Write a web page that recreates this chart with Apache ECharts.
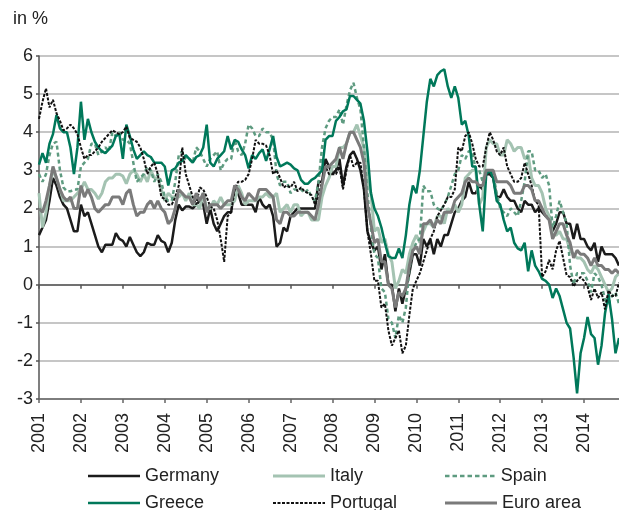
<!DOCTYPE html>
<html>
<head>
<meta charset="utf-8">
<script src="https://cdn.jsdelivr.net/npm/echarts@6/dist/echarts.min.js"></script>
<style>
html,body{margin:0;padding:0;background:#fff;}
#chart{width:619px;height:510px;}
</style>
</head>
<body>
<div id="chart"></div>
<script>
var years = ['2001','2002','2003','2004','2005','2006','2007','2008','2009','2010','2011','2012','2013','2014'];
var monthsInLastYear = 11;

var germany = [
1.3,1.5,1.7,2.2,2.8,2.6,2.3,2.1,2.0,1.7,1.4,1.4,
2.1,1.8,1.9,1.6,1.3,1.0,0.85,1.05,1.05,1.05,1.35,1.2,
1.15,1.0,1.25,1.05,0.85,0.75,0.85,1.1,1.05,1.05,1.3,1.15,
1.1,0.85,1.1,1.7,2.1,1.95,2.05,2.05,2.0,2.1,2.2,2.1,
1.6,2.0,1.6,1.4,1.6,1.8,1.9,1.9,2.6,2.4,2.1,2.1,
2.1,2.1,1.9,2.3,2.1,2.0,2.1,1.8,1.0,1.1,1.5,1.4,
1.8,1.9,2.0,2.0,2.0,2.0,2.0,2.0,2.7,2.7,3.3,3.1,
2.9,3.0,3.3,2.6,3.1,3.4,3.5,3.3,3.0,2.5,1.4,1.1,
0.9,1.0,0.4,0.8,0.0,0.0,-0.7,-0.1,-0.5,-0.1,0.3,0.8,
0.8,0.5,1.2,1.0,1.2,0.8,1.2,1.0,1.3,1.3,1.6,1.9,
2.0,2.2,2.3,2.7,2.4,2.4,2.6,2.5,2.9,2.9,2.8,2.3,
2.3,2.5,2.3,2.2,2.2,2.0,1.9,2.2,2.1,2.1,1.9,2.0,
1.9,1.8,1.8,1.4,1.6,1.9,1.9,1.6,1.6,1.2,1.6,1.2,
1.2,1.0,0.9,1.1,0.6,1.0,0.8,0.8,0.8,0.7,0.5];

var italy = [
2.4,1.5,1.9,2.6,3.0,2.8,2.5,2.2,2.2,2.2,2.3,2.4,
2.5,2.7,2.5,2.5,2.4,2.25,2.4,2.7,2.8,2.8,2.9,2.9,
2.85,2.65,2.9,3.0,2.9,2.7,2.9,2.7,3.0,2.8,2.8,2.5,
2.2,2.4,2.3,2.3,2.3,2.4,2.2,2.4,2.1,2.1,2.0,2.4,
2.0,2.0,2.2,2.1,2.3,2.1,2.1,2.1,2.2,2.6,2.4,2.1,
2.2,2.2,2.2,2.3,2.3,2.4,2.3,2.3,2.4,1.9,2.0,2.1,
1.9,2.1,2.1,1.8,1.9,1.9,1.7,1.7,1.7,2.3,2.6,2.8,
3.1,3.1,3.6,3.6,3.7,4.0,4.0,4.2,3.9,3.6,2.7,2.4,
1.4,1.5,1.1,1.2,0.8,0.6,-0.1,0.1,0.4,0.3,0.8,1.1,
1.3,1.1,1.4,1.6,1.6,1.5,1.8,1.8,1.6,2.0,1.9,2.1,
1.9,2.1,2.8,2.9,3.0,3.0,2.1,2.3,3.6,3.8,3.7,3.7,
3.4,3.4,3.8,3.7,3.5,3.6,3.6,3.3,3.4,2.8,2.6,2.6,
2.4,2.0,1.8,1.3,1.3,1.4,1.2,1.2,0.9,0.8,0.7,0.7,
0.6,0.4,0.3,0.5,0.4,0.2,0.0,-0.2,-0.1,0.2,0.3];

var spain = [
2.9,2.7,2.9,3.4,3.7,3.75,3.0,2.55,2.45,2.45,2.5,2.5,
3.1,3.2,3.3,3.7,3.7,3.4,3.5,3.6,3.5,4.0,3.9,4.0,
3.8,3.8,3.7,3.2,2.7,2.8,2.9,3.1,3.0,2.7,2.9,2.7,
2.3,2.2,2.2,2.7,3.4,3.5,3.3,3.3,3.2,3.6,3.5,3.3,
3.1,3.3,3.4,3.5,3.0,3.2,3.3,3.3,3.8,3.5,3.4,3.7,
4.2,4.1,3.9,3.9,4.1,4.0,4.0,3.8,2.9,2.6,2.7,2.7,
2.4,2.5,2.5,2.5,2.4,2.5,2.3,2.2,2.7,3.6,4.1,4.3,
4.4,4.4,4.6,4.2,4.7,5.1,5.3,4.9,4.6,3.6,2.4,1.5,
0.8,0.7,-0.1,-0.2,-0.9,-1.0,-1.4,-0.8,-1.0,-0.6,0.4,0.9,
1.1,1.2,2.6,2.45,2.45,2.1,2.0,1.95,2.1,2.3,2.6,2.9,
3.0,3.4,3.3,3.5,3.5,3.0,3.0,2.7,3.0,3.0,2.9,2.4,
2.0,1.9,1.8,2.0,1.9,1.8,2.2,2.7,3.5,3.5,3.0,3.0,
2.8,2.9,2.6,1.5,1.8,2.2,1.9,1.6,0.5,0.0,0.3,0.3,
0.3,0.1,-0.2,0.3,0.2,0.0,-0.4,-0.5,-0.3,-0.2,-0.5];

var greece = [
3.15,3.45,3.2,3.7,3.95,4.45,4.1,4.0,4.0,3.6,2.9,3.6,
4.8,3.8,4.35,4.0,3.75,3.6,3.5,3.45,3.55,3.65,3.9,3.95,
3.3,4.2,3.9,3.55,3.3,3.4,3.5,3.4,3.35,3.2,3.2,3.2,
3.1,2.6,3.0,3.05,3.2,3.25,3.4,3.3,3.2,3.35,3.4,3.6,
4.2,3.2,3.1,3.3,3.4,3.5,3.9,3.55,3.8,3.75,3.55,3.4,
3.05,3.4,3.3,3.45,3.55,3.25,3.55,3.9,3.35,3.1,3.15,3.2,
3.15,3.05,3.0,2.75,2.65,2.65,2.75,2.8,2.9,3.0,3.8,3.9,
3.9,4.3,4.4,4.55,4.6,4.95,4.95,4.85,4.75,4.3,3.5,2.4,
2.0,1.8,1.5,1.1,0.75,0.7,0.7,0.95,0.7,1.3,2.1,2.6,
2.4,3.0,3.9,4.8,5.4,5.2,5.5,5.6,5.65,5.2,4.9,5.2,
4.9,4.2,4.3,3.9,3.1,3.1,2.1,1.4,2.9,3.0,2.8,2.2,
2.1,1.7,1.4,1.5,1.1,0.95,0.9,1.1,0.35,0.9,0.5,0.35,
0.15,0.1,0.0,-0.35,-0.1,-0.3,-0.65,-1.0,-1.15,-1.9,-2.85,-1.8,
-1.4,-0.85,-1.3,-1.4,-2.1,-1.6,-0.75,-0.25,-0.9,-1.8,-1.4];

var portugal = [
4.35,4.8,5.15,4.65,4.85,4.5,4.3,4.05,4.1,4.2,4.1,3.95,
3.6,3.3,3.4,3.4,3.5,3.6,3.75,3.85,3.95,4.05,4.0,3.95,
4.0,4.15,3.85,3.8,3.75,3.6,3.3,2.9,3.1,3.2,2.9,2.3,
2.25,2.1,2.1,2.3,2.6,3.6,2.9,2.6,2.3,2.1,2.55,2.5,
2.3,2.05,2.0,1.7,1.2,0.6,1.8,1.9,2.5,2.7,2.7,2.75,
2.9,3.3,3.8,3.7,3.7,3.65,3.4,2.9,3.0,2.8,2.55,2.6,
2.55,2.7,2.45,2.55,2.45,2.4,2.35,2.1,2.3,2.7,3.1,2.9,
2.9,2.9,3.1,2.5,3.0,3.4,3.1,3.2,3.2,2.5,1.4,0.8,
0.1,0.1,-0.6,-0.5,-1.2,-1.6,-1.4,-1.2,-1.8,-1.6,-0.8,-0.1,
0.1,0.3,0.6,0.9,1.2,1.4,1.8,1.95,2.1,2.3,2.3,2.5,
3.6,3.5,3.9,4.0,3.7,3.3,3.1,3.1,3.6,4.0,3.8,3.5,
3.4,3.6,3.1,2.9,2.7,2.7,2.8,3.2,2.9,2.6,2.2,2.1,
0.2,0.35,0.65,0.4,0.9,1.15,0.7,0.25,0.2,-0.05,0.1,0.2,
0.1,-0.05,-0.4,-0.1,-0.35,-0.2,-0.65,-0.15,-0.3,-0.3,0.05];

var euroArea = [
2.0,1.9,2.2,2.6,3.1,2.8,2.5,2.3,2.2,2.3,2.0,2.0,
2.6,2.3,2.5,2.3,2.0,1.9,2.0,2.1,2.1,2.3,2.3,2.3,
2.1,2.4,2.5,2.1,1.8,1.9,1.9,2.1,2.2,2.0,2.2,2.0,
1.9,1.6,1.7,2.0,2.5,2.4,2.3,2.3,2.1,2.4,2.2,2.4,
1.9,2.1,2.1,2.1,2.0,2.1,2.2,2.2,2.6,2.5,2.3,2.2,
2.4,2.3,2.2,2.5,2.5,2.5,2.4,2.3,1.7,1.6,1.9,1.9,
1.8,1.8,1.9,1.9,1.9,1.9,1.8,1.7,2.1,2.6,3.1,3.1,
3.2,3.3,3.6,3.3,3.7,4.0,4.0,3.8,3.6,3.2,2.1,1.6,
1.1,1.2,0.6,0.6,0.0,-0.1,-0.6,-0.2,-0.3,-0.1,0.5,0.9,
1.0,0.8,1.6,1.6,1.7,1.5,1.7,1.6,1.9,1.9,1.9,2.2,
2.3,2.4,2.7,2.8,2.7,2.7,2.6,2.6,3.0,3.0,3.0,2.7,
2.7,2.7,2.7,2.6,2.4,2.4,2.4,2.6,2.6,2.5,2.2,2.2,
2.0,1.8,1.7,1.2,1.4,1.6,1.6,1.3,1.1,0.7,0.9,0.8,
0.8,0.7,0.5,0.7,0.5,0.5,0.4,0.4,0.3,0.4,0.3];

var yTicks = {min: -3, max: 6, step: 1};

// month categories built from the year list
var categories = [];
years.forEach(function (y, i) {
  var n = (i === years.length - 1) ? monthsInLastYear : 12;
  for (var m = 1; m <= n; m++) categories.push(y + '-' + (m < 10 ? '0' + m : m));
});

var FONT = '"Liberation Sans", Arial, Helvetica, sans-serif';
var TXT = '#222';

var C = {
  germany: '#1b1b1b', italy: '#a4c3b2', spain: '#5e9b80',
  greece: '#00785a', portugal: '#111111', euro: '#7a7a7a'
};

// legend icon paths (a bar, or a row of dashes)
function barPath(w, h) { return 'path://M0,0H' + w + 'V' + h + 'H0Z'; }
function dashPath(w, h, dash, gap) {
  var p = 'path://';
  for (var x = 0; x < w - 0.01; x += dash + gap) {
    var d = Math.min(dash, w - x);
    p += 'M' + x + ',0h' + d + 'v' + h + 'h' + (-d) + 'Z';
  }
  return p;
}

function legendItem(name, left, top, color, h, icon) {
  return {
    data: [{name: name, icon: icon, itemStyle: {color: color, borderWidth: 0}}],
    left: left, top: top, padding: 0, orient: 'horizontal',
    itemWidth: 52, itemHeight: h, itemGap: 0,
    itemStyle: {borderWidth: 0},
    textStyle: {fontSize: 18, color: TXT, fontFamily: FONT},
    selectedMode: false
  };
}

var row1 = 467, row2 = 494;
var chart = echarts.init(document.getElementById('chart'), null, {renderer: 'canvas'});

chart.setOption({
  animation: false,
  backgroundColor: '#fff',
  title: {text: 'in %', left: 13, top: 10, padding: 0,
    textStyle: {fontSize: 18, fontWeight: 'normal', color: TXT, fontFamily: FONT}},
  grid: {left: 39, right: 0, top: 56, bottom: 111, containLabel: false},
  legend: [
    legendItem('Germany', 88, row1, C.germany, 2.5, barPath(52, 2.5)),
    legendItem('Italy', 273, row1, C.italy, 3, barPath(52, 3)),
    legendItem('Spain', 445, row1, C.spain, 2.5, dashPath(52, 2.5, 4.5, 3)),
    legendItem('Greece', 88, row2, C.greece, 2.5, barPath(52, 2.5)),
    legendItem('Portugal', 273, row2, C.portugal, 2, dashPath(52, 2, 3, 1.5)),
    legendItem('Euro area', 445, row2, C.euro, 3, barPath(52, 3))
  ],
  xAxis: [{
    type: 'category', data: categories, boundaryGap: false, position: 'bottom',
    axisLine: {onZero: false, lineStyle: {color: '#666', width: 1.5}},
    axisTick: {show: true, interval: 11, length: 4, lineStyle: {color: '#666', width: 1.5}},
    axisLabel: {interval: 11, rotate: 90, margin: 14, fontSize: 18, color: TXT, fontFamily: FONT,
      formatter: function (v) { return v.slice(0, 4); }},
    splitLine: {show: false}
  }, {
    type: 'category', data: categories, boundaryGap: false, position: 'bottom',
    axisLine: {onZero: true, lineStyle: {color: '#555', width: 1.5}},
    axisTick: {show: true, interval: 11, length: 4, lineStyle: {color: '#555', width: 1.5}},
    axisLabel: {show: false},
    splitLine: {show: false}
  }],
  yAxis: {
    type: 'value', min: yTicks.min, max: yTicks.max, interval: yTicks.step,
    axisLine: {show: true, lineStyle: {color: '#555', width: 1.5}},
    axisTick: {show: true, length: 3, lineStyle: {color: '#555', width: 1.5}},
    axisLabel: {fontSize: 18, color: TXT, fontFamily: FONT, margin: 6},
    splitLine: {lineStyle: {color: '#b3b3b3', width: 1.5}}
  },
  series: [
    {name: 'Germany', type: 'line', data: germany, symbol: 'none',
      itemStyle: {color: C.germany, borderWidth: 0}, lineStyle: {color: C.germany, width: 2.5}},
    {name: 'Italy', type: 'line', data: italy, symbol: 'none',
      itemStyle: {color: C.italy, borderWidth: 0}, lineStyle: {color: C.italy, width: 3}},
    {name: 'Spain', type: 'line', data: spain, symbol: 'none',
      itemStyle: {color: C.spain, borderWidth: 0}, lineStyle: {color: C.spain, width: 2.5, type: [4, 3]}},
    {name: 'Greece', type: 'line', data: greece, symbol: 'none',
      itemStyle: {color: C.greece, borderWidth: 0}, lineStyle: {color: C.greece, width: 2.5}},
    {name: 'Portugal', type: 'line', data: portugal, symbol: 'none',
      itemStyle: {color: C.portugal, borderWidth: 0}, lineStyle: {color: C.portugal, width: 2, type: [3, 1.5]}},
    {name: 'Euro area', type: 'line', data: euroArea, symbol: 'none',
      itemStyle: {color: C.euro, borderWidth: 0}, lineStyle: {color: C.euro, width: 3}}
  ]
});
</script>
</body>
</html>
